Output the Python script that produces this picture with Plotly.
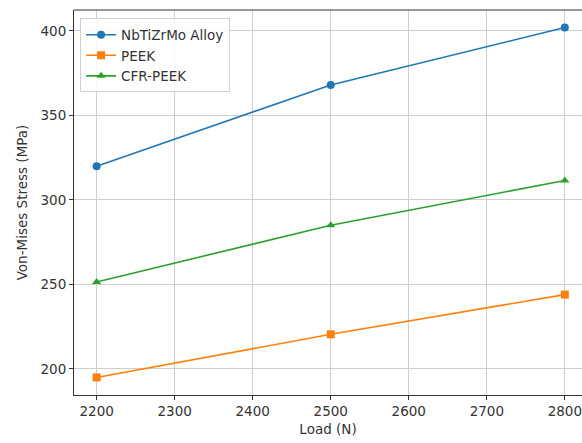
import plotly.graph_objects as go

loads = [2200, 2500, 2800]
nbtizrmo = [320, 368, 402]
peek = [195, 220.5, 244]
cfr_peek = [251.5, 285, 311.5]
x_ticks = [2200, 2300, 2400, 2500, 2600, 2700, 2800]
y_ticks = [200, 250, 300, 350, 400]

series = [
    ("NbTiZrMo Alloy", nbtizrmo, "#1f77b4", "circle"),
    ("PEEK", peek, "#ff7f0e", "square"),
    ("CFR-PEEK", cfr_peek, "#2ca02c", "triangle-up"),
]

FS = 13.5

fig = go.Figure()
for name, vals, color, sym in series:
    fig.add_trace(go.Scatter(
        x=loads, y=vals, name=name, mode="lines+markers",
        line=dict(color=color, width=1.6),
        marker=dict(symbol=sym, size=8, color=color),
    ))

axis_common = dict(
    showgrid=True, gridcolor="#cfcfcf", gridwidth=1,
    showline=True, linecolor="#333333", linewidth=1,
    ticks="outside", ticklen=4, tickcolor="#333333",
    tickfont=dict(family="DejaVu Sans", size=FS, color="#333333"),
    zeroline=False, ticklabeloverflow="allow",
)

fig.update_layout(
    width=582, height=443,
    margin=dict(l=74, r=0, t=10, b=48),
    paper_bgcolor="white", plot_bgcolor="white",
    font=dict(family="DejaVu Sans", size=FS, color="#333333"),
    xaxis=dict(range=[2171, 2822], tickvals=x_ticks, mirror=False,
               title=dict(text="Load (N)", standoff=6,
                          font=dict(family="DejaVu Sans", size=FS)),
               **axis_common),
    yaxis=dict(range=[184.6, 412.4], tickvals=y_ticks, mirror=False,
               title=dict(text="Von-Mises Stress (MPa)", standoff=9,
                          font=dict(family="DejaVu Sans", size=FS)),
               **axis_common),
    legend=dict(x=0.012, y=0.978, xanchor="left", yanchor="top",
                bgcolor="rgba(255,255,255,0.85)", bordercolor="#d0d0d0",
                borderwidth=1, font=dict(family="DejaVu Sans", size=FS),
                itemwidth=30, tracegroupgap=0),
    showlegend=True,
)
# top spine
fig.add_shape(type="line", xref="paper", yref="paper", x0=0, x1=1, y0=1, y1=1,
              line=dict(color="#333333", width=1))

fig.write_html("out.html")
